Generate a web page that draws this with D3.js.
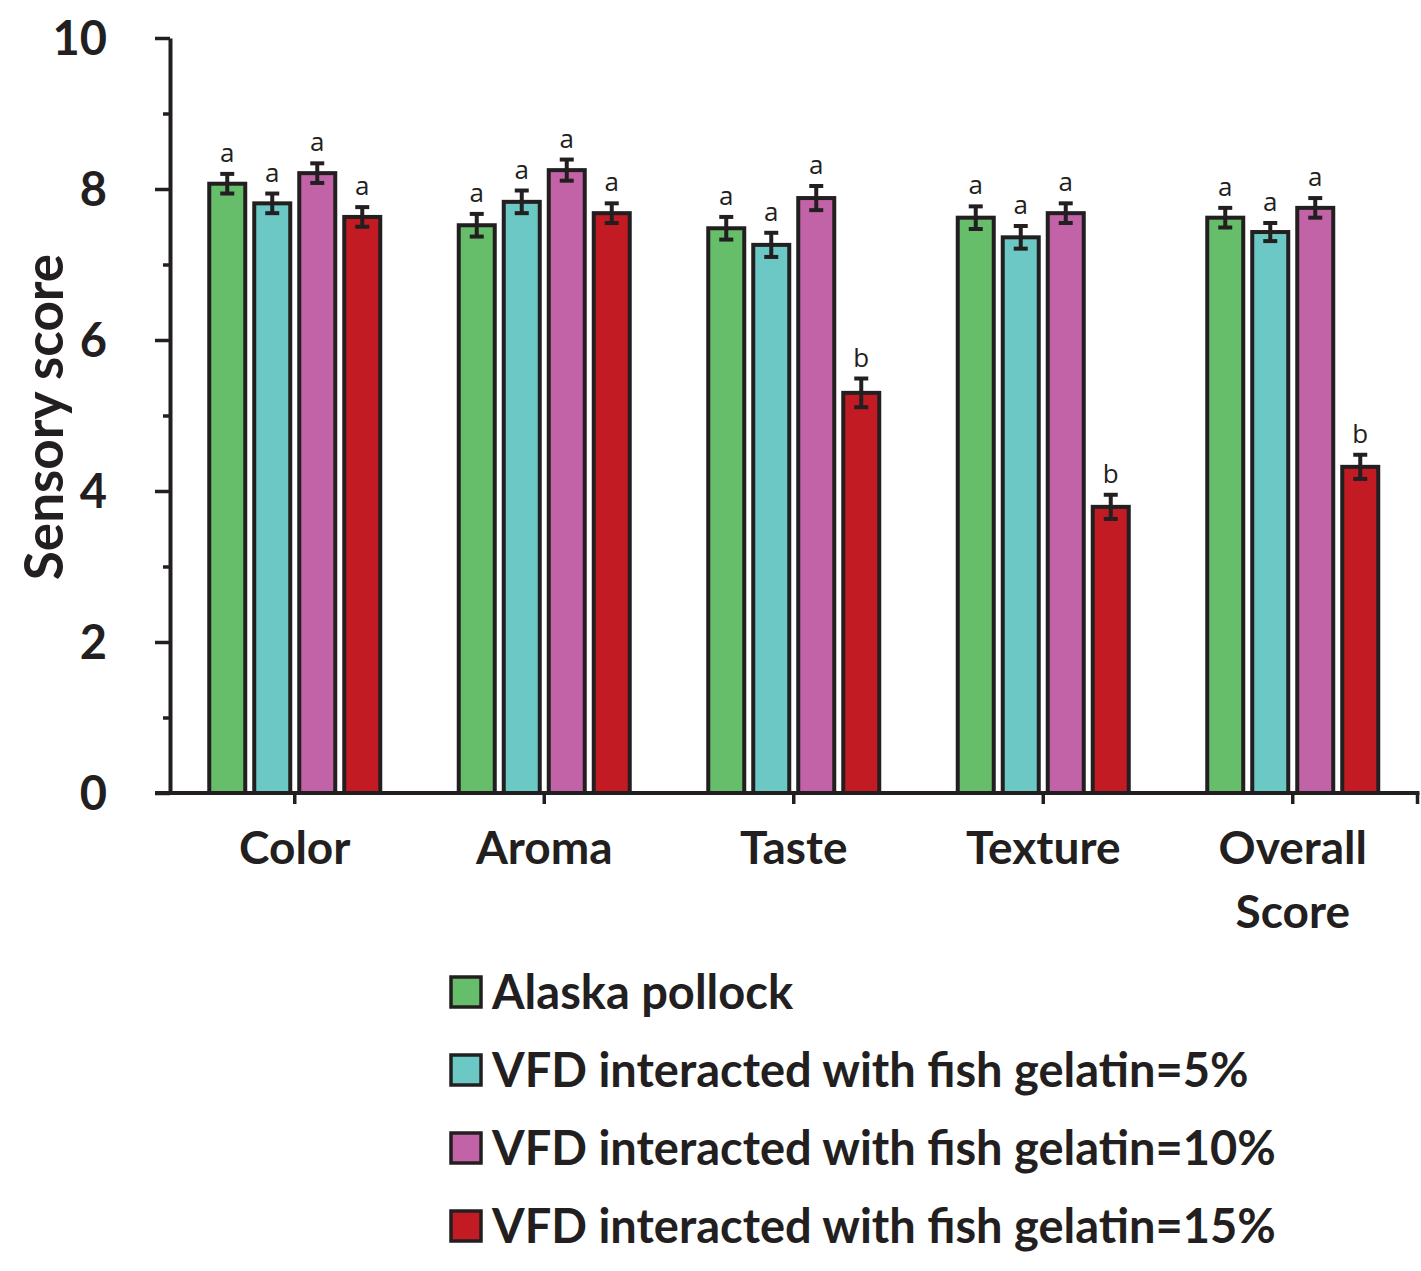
<!DOCTYPE html>
<html>
<head>
<meta charset="utf-8">
<script src="https://cdn.jsdelivr.net/npm/d3@7"></script>
<style>
    body { margin: 0; background: #fff; }
    svg { display: block; }
</style>
</head>
<body>
<div id="chart"></div>
<script>
// categories and series
var categories = ["Color", "Aroma", "Taste", "Texture", "Overall Score"];
var seriesNames = [
    "Alaska pollock",
    "VFD interacted with fish gelatin=5%",
    "VFD interacted with fish gelatin=10%",
    "VFD interacted with fish gelatin=15%"
];
var seriesColors = ["#66bd6a", "#6bc8c4", "#c263a7", "#c21b23"];

var pollock = [8.07, 7.52, 7.48, 7.62, 7.62];
var gelatin5 = [7.81, 7.83, 7.26, 7.36, 7.43];
var gelatin10 = [8.21, 8.25, 7.88, 7.68, 7.75];
var gelatin15 = [7.63, 7.68, 5.30, 3.79, 4.32];

var errPollock = [0.13, 0.15, 0.15, 0.15, 0.13];
var errGelatin5 = [0.13, 0.15, 0.16, 0.15, 0.12];
var errGelatin10 = [0.13, 0.14, 0.16, 0.13, 0.13];
var errGelatin15 = [0.13, 0.13, 0.19, 0.16, 0.16];

var letPollock = ["a", "a", "a", "a", "a"];
var letGelatin5 = ["a", "a", "a", "a", "a"];
var letGelatin10 = ["a", "a", "a", "a", "a"];
var letGelatin15 = ["a", "a", "b", "b", "b"];

var yMajorTicks = [0, 2, 4, 6, 8, 10];
var yMinorTicks = [1, 3, 5, 7, 9];

(function() {
    var ink = "#231f20",
        font = "Lato, 'DejaVu Sans', sans-serif";

    var values = [pollock, gelatin5, gelatin10, gelatin15],
        errors = [errPollock, errGelatin5, errGelatin10, errGelatin15],
        letters = [letPollock, letGelatin5, letGelatin10, letGelatin15];

    var rows = [];
    categories.forEach(function(c, i) {
        seriesNames.forEach(function(s, j) {
            rows.push({ cat: c, series: j, value: values[j][i], err: errors[j][i], letter: letters[j][i] });
        });
    });

    var svg = d3.select("#chart")
        .append("svg")
        .attr("width", 1421)
        .attr("height", 1271);

    var x = d3.scaleBand().domain(categories).range([170, 1417.5]).padding(0);
    var xInner = d3.scaleBand().domain(d3.range(4)).range([-90, 90]).padding(0);
    var y = d3.scaleLinear().domain([0, 10]).range([793, 38]);

    // bars
    var groups = svg.selectAll(".group")
        .data(rows)
        .enter().append("g")
        .attr("class", "group")
        .attr("transform", d => "translate(" + (x(d.cat) + x.bandwidth() / 2 + xInner(d.series) + xInner.bandwidth() / 2) + ",0)");

    var barW = 36;
    groups.append("rect")
        .attr("x", -barW / 2)
        .attr("y", d => y(d.value))
        .attr("width", barW)
        .attr("height", d => y(0) - y(d.value))
        .attr("fill", d => seriesColors[d.series])
        .attr("stroke", ink)
        .attr("stroke-width", 4);

    // error bars
    groups.append("line")
        .attr("x1", 0).attr("x2", 0)
        .attr("y1", d => y(d.value + d.err))
        .attr("y2", d => y(d.value - d.err))
        .attr("stroke", ink).attr("stroke-width", 4);
    [1, -1].forEach(function(sgn) {
        groups.append("line")
            .attr("x1", -7).attr("x2", 7)
            .attr("y1", d => y(d.value + sgn * d.err))
            .attr("y2", d => y(d.value + sgn * d.err))
            .attr("stroke", ink).attr("stroke-width", 4);
    });

    groups.append("text")
        .attr("x", 0)
        .attr("y", d => y(d.value + d.err) - 12)
        .attr("text-anchor", "middle")
        .attr("font-family", "'Open Sans', sans-serif")
        .attr("font-size", 26)
        .attr("fill", ink)
        .text(d => d.letter);

    // y axis
    var yAxis = svg.append("g")
        .attr("transform", "translate(170,0)")
        .call(d3.axisLeft(y).tickValues(yMajorTicks).tickSize(15).tickPadding(48).tickSizeOuter(0));
    yAxis.select(".domain").attr("stroke", ink).attr("stroke-width", 4);
    yAxis.selectAll(".tick line").attr("stroke", ink).attr("stroke-width", 3.5);
    yAxis.selectAll(".tick text")
        .attr("font-family", font)
        .attr("font-weight", 700)
        .attr("font-size", 47)
        .attr("fill", ink)
        .attr("dy", "0.36em");

    var yMinor = svg.append("g")
        .attr("transform", "translate(170,0)")
        .call(d3.axisLeft(y).tickValues(yMinorTicks).tickSize(7).tickFormat("").tickSizeOuter(0));
    yMinor.select(".domain").remove();
    yMinor.selectAll(".tick line").attr("stroke", ink).attr("stroke-width", 3.5);

    // x axis
    svg.append("line")
        .attr("x1", 155).attr("x2", x.range()[1] + 2)
        .attr("y1", y(0)).attr("y2", y(0))
        .attr("stroke", ink).attr("stroke-width", 4);

    var xAxis = svg.append("g")
        .attr("transform", "translate(0," + y(0) + ")")
        .call(d3.axisBottom(x).tickSize(11).tickSizeOuter(0).tickFormat(""));
    xAxis.select(".domain").remove();
    xAxis.selectAll(".tick line").attr("stroke", ink).attr("stroke-width", 3.5);

    svg.append("line")
        .attr("x1", x.range()[1]).attr("x2", x.range()[1])
        .attr("y1", y(0)).attr("y2", y(0) + 11)
        .attr("stroke", ink).attr("stroke-width", 3.5);

    var catLabels = svg.selectAll(".cat-label")
        .data(categories)
        .enter().append("text")
        .attr("class", "cat-label")
        .attr("text-anchor", "middle")
        .attr("font-family", font)
        .attr("font-weight", 700)
        .attr("font-size", 46)
        .attr("fill", ink)
        .attr("transform", d => "translate(" + (x(d) + x.bandwidth() / 2) + ",864)");
    catLabels.each(function(d) {
        var words = d.split(" "),
            t = d3.select(this);
        words.forEach(function(w, k) {
            t.append("tspan").attr("x", 0).attr("dy", k === 0 ? 0 : 64).text(w);
        });
    });

    // y axis title
    svg.append("text")
        .attr("transform", "translate(63,417) rotate(-90)")
        .attr("text-anchor", "middle")
        .attr("font-family", font)
        .attr("font-weight", 700)
        .attr("font-size", 53)
        .attr("fill", ink)
        .text("Sensory score");

    // legend
    var legend = svg.selectAll(".legend")
        .data(seriesNames)
        .enter().append("g")
        .attr("class", "legend")
        .attr("transform", (d, i) => "translate(449," + (992 + i * 78) + ")");

    legend.append("rect")
        .attr("x", 2).attr("y", -15)
        .attr("width", 30).attr("height", 30)
        .attr("fill", (d, i) => seriesColors[i])
        .attr("stroke", ink)
        .attr("stroke-width", 3.5);

    legend.append("text")
        .attr("x", 43)
        .attr("dy", "0.36em")
        .attr("font-family", font)
        .attr("font-weight", 700)
        .attr("font-size", 47)
        .attr("fill", ink)
        .text(d => d);
})();
</script>
</body>
</html>
